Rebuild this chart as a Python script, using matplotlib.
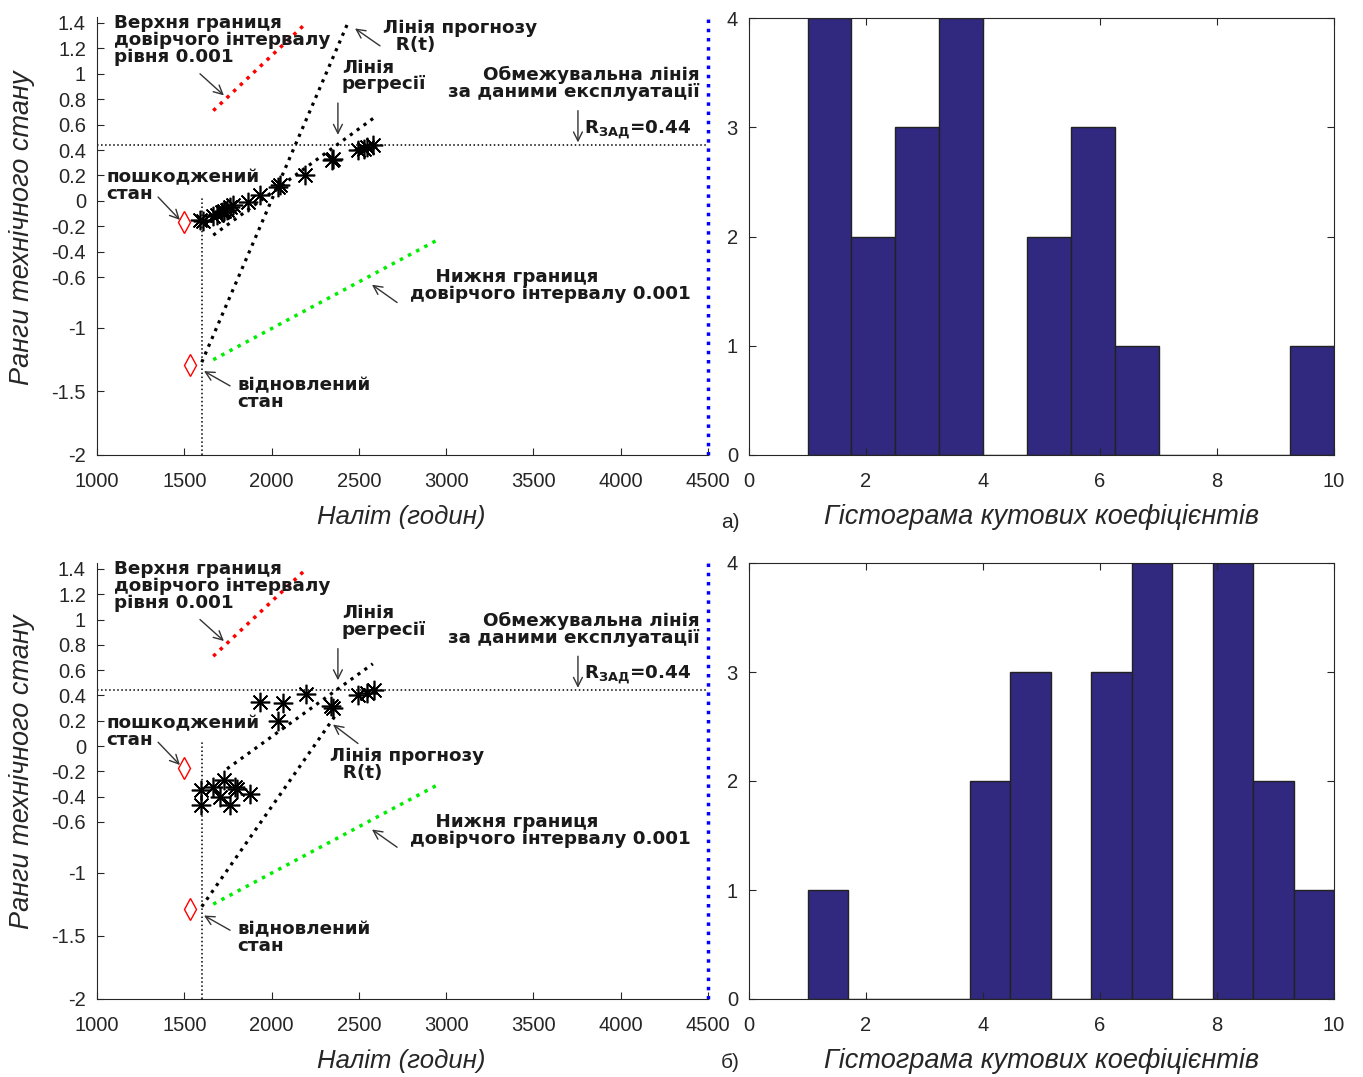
import numpy as np
import matplotlib
matplotlib.use('agg')
import matplotlib.pyplot as plt

# наліт (годин) і ранги технічного стану, випадок а)
hours_a = [1590, 1605, 1666, 1690, 1714, 1730, 1743, 1760, 1781, 1867,
           1934, 2039, 2048, 2191, 2344, 2354, 2497, 2530, 2545, 2583]
rank_a = [-0.15, -0.16, -0.12, -0.11, -0.09, -0.08, -0.07, -0.05, -0.03, -0.005,
          0.05, 0.11, 0.125, 0.20, 0.32, 0.33, 0.40, 0.41, 0.42, 0.44]

# випадок б)
hours_b = [1594, 1594, 1666, 1705, 1729, 1762, 1790, 1800, 1876, 1934,
           2039, 2063, 2197, 2338, 2354, 2497, 2545, 2587]
rank_b = [-0.35, -0.47, -0.32, -0.40, -0.27, -0.47, -0.32, -0.34, -0.38, 0.35,
          0.20, 0.34, 0.41, 0.32, 0.30, 0.40, 0.42, 0.44]

# лінії (кінцеві точки)
regr_a_x, regr_a_y = [1666, 2583], [-0.27, 0.65]
prog_a_x, prog_a_y = [1600, 2440], [-1.27, 1.41]
regr_b_x, regr_b_y = [1745, 2580], [-0.18, 0.65]
prog_b_x, prog_b_y = [1600, 2370], [-1.27, 0.25]
upper_x, upper_y = [1666, 2191], [0.71, 1.39]
lower_x, lower_y = [1666, 2947], [-1.25, -0.31]
r_zad = 0.44
t_restore = 1600
t_limit = 4500
damaged = (1498, -0.17)
restored = (1533, -1.29)

# гістограми кутових коефіцієнтів
slope_range = (1, 10)
counts_a = [4, 2, 3, 4, 0, 2, 3, 1, 0, 0, 0, 1]
counts_b = [1, 0, 0, 0, 2, 3, 0, 3, 4, 0, 4, 2, 1]

W, H = 1363, 1077
TXT = '#262626'
BAR = '#312880'
plt.rcParams['font.family'] = ['Liberation Sans', 'DejaVu Sans']
plt.rcParams['mathtext.fontset'] = 'dejavusans'

fig = plt.figure(figsize=(W / 100, H / 100), dpi=100)


def ann_font():
    return dict(family='DejaVu Sans', fontweight='bold', fontsize=13.2,
                color='#1a1a1a', linespacing=0.92)


def arrow(ax, head, tail):
    ax.annotate('', xy=head, xytext=tail,
                arrowprops=dict(arrowstyle='->', color='#333333', lw=1.0,
                                mutation_scale=16, shrinkA=0, shrinkB=0))


def left_plot(ax, hx, hy, rx, ry, px, py, prog_text, prog_head, prog_tail):
    ax.set_xlim(1000, 4500)
    ax.set_ylim(-2, 1.447)
    for s in ['top', 'right']:
        ax.spines[s].set_visible(False)
    for s in ['left', 'bottom']:
        ax.spines[s].set_color(TXT)
    ax.set_xticks(range(1000, 4501, 500))
    ax.set_yticks([-2, -1.5, -1, -0.6, -0.4, -0.2, 0, 0.2, 0.4, 0.6, 0.8, 1, 1.2, 1.4])
    ax.set_yticklabels(['-2', '-1.5', '-1', '-0.6', '-0.4', '-0.2', '0', '0.2',
                        '0.4', '0.6', '0.8', '1', '1.2', '1.4'])
    ax.tick_params(direction='in', length=5, labelsize=14.5, colors=TXT, pad=8)
    ax.tick_params(axis='x', pad=12)

    ax.plot([1000, t_limit], [r_zad, r_zad], ':', color='black', lw=1.1)
    ax.plot([t_restore, t_restore], [-2, 0.04], ':', color='black', lw=1.1)
    ax.plot([t_limit, t_limit], [-2, 1.447], ':', color='#0000ff', lw=2.5, clip_on=False)
    ax.plot(upper_x, upper_y, ':', color='#ff0000', lw=2.5)
    ax.plot(lower_x, lower_y, ':', color='#00ee00', lw=2.5)
    ax.plot(rx, ry, ':', color='black', lw=2.3)
    ax.plot(px, py, ':', color='black', lw=2.3)
    ax.plot(hx, hy, linestyle='none', marker=(8, 2, 0), ms=14, mew=1.2, color='black')
    ax.plot([damaged[0], restored[0]], [damaged[1], restored[1]], linestyle='none',
            marker='d', ms=11, mfc='none', mec='#ff0000', mew=1.0)

    f = ann_font()
    ax.text(1097, 1.47, 'Верхня границя\nдовірчого інтервалу\nрівня 0.001',
            ha='left', va='top', clip_on=False, **f)
    arrow(ax, (1727, 0.83), (1590, 1.0))
    ax.text(2403, 1.12, 'Лінія\nрегресії', ha='left', va='top', **f)
    arrow(ax, (2380, 0.52), (2380, 0.77))
    ax.text(4454, 1.06, 'Обмежувальна лінія\nза даними експлуатації',
            ha='right', va='top', multialignment='right', **f)
    arrow(ax, (3755, 0.46), (3755, 0.71))
    ax.text(3790, 0.53, r'$\mathbf{R}_{\mathbf{ЗАД}}$=0.44', ha='left',
            va='baseline', **f)
    ax.text(1052, 0.255, 'пошкоджений\nстан', ha='left', va='top', **f)
    arrow(ax, (1475, -0.15), (1350, 0.03))
    ax.text(2793, -0.53, '    Нижня границя\nдовірчого інтервалу 0.001',
            ha='left', va='top', **f)
    arrow(ax, (2575, -0.66), (2719, -0.80))
    ax.text(1802, -1.38, 'відновлений\nстан', ha='left', va='top', **f)
    arrow(ax, (1613, -1.34), (1762, -1.456))
    ax.text(prog_text[0], prog_text[1], 'Лінія прогнозу\n  R(t)', ha='left', va='top', **f)
    arrow(ax, prog_head, prog_tail)


def hist_plot(ax, counts):
    edges = np.linspace(slope_range[0], slope_range[1], len(counts) + 1)
    ax.bar(edges[:-1], counts, width=np.diff(edges), align='edge',
           color=BAR, edgecolor='#222222', lw=1.0)
    ax.set_xlim(0, 10)
    ax.set_ylim(0, 4)
    ax.set_xticks(range(0, 11, 2))
    ax.set_yticks(range(0, 5))
    for s in ax.spines.values():
        s.set_color(TXT)
    ax.tick_params(direction='in', length=5, labelsize=14.5, colors=TXT,
                   top=True, right=True, pad=8)
    ax.tick_params(axis='x', pad=12)


ax_a = fig.add_axes([97 / W, 1 - 455 / H, 611 / W, 438 / H])
ax_b = fig.add_axes([97 / W, 1 - 999 / H, 611 / W, 436 / H])
hs_a = fig.add_axes([749 / W, 1 - 455 / H, 585 / W, 437 / H])
hs_b = fig.add_axes([749 / W, 1 - 999 / H, 585 / W, 436 / H])

left_plot(ax_a, hours_a, rank_a, regr_a_x, regr_a_y, prog_a_x, prog_a_y,
          (2638, 1.43), (2478, 1.357), (2621, 1.22))
left_plot(ax_b, hours_b, rank_b, regr_b_x, regr_b_y, prog_b_x, prog_b_y,
          (2335, -0.01), (2352, 0.17), (2495, 0.02))
hist_plot(hs_a, counts_a)
hist_plot(hs_b, counts_b)

for top in (0, 544):
    fig.text(401 / W, 1 - (517 + top) / H, 'Наліт (годин)', ha='center', va='center',
             fontsize=18.5, style='italic', color=TXT)
    fig.text(1041 / W, 1 - (517 + top) / H, 'Гістограма кутових коефіцієнтів',
             ha='center', va='center', fontsize=19.5, style='italic', color=TXT)
    fig.text(22 / W, 1 - (228 + top) / H, 'Ранги технічного стану', ha='center',
             va='center', rotation=90, fontsize=19.5, style='italic', color=TXT)
fig.text(730 / W, 1 - 522 / H, 'а)', ha='center', va='center', fontsize=15, color=TXT)
fig.text(730 / W, 1 - 1063 / H, 'б)', ha='center', va='center', fontsize=15, color=TXT)

fig.savefig('out.png', dpi=100)
